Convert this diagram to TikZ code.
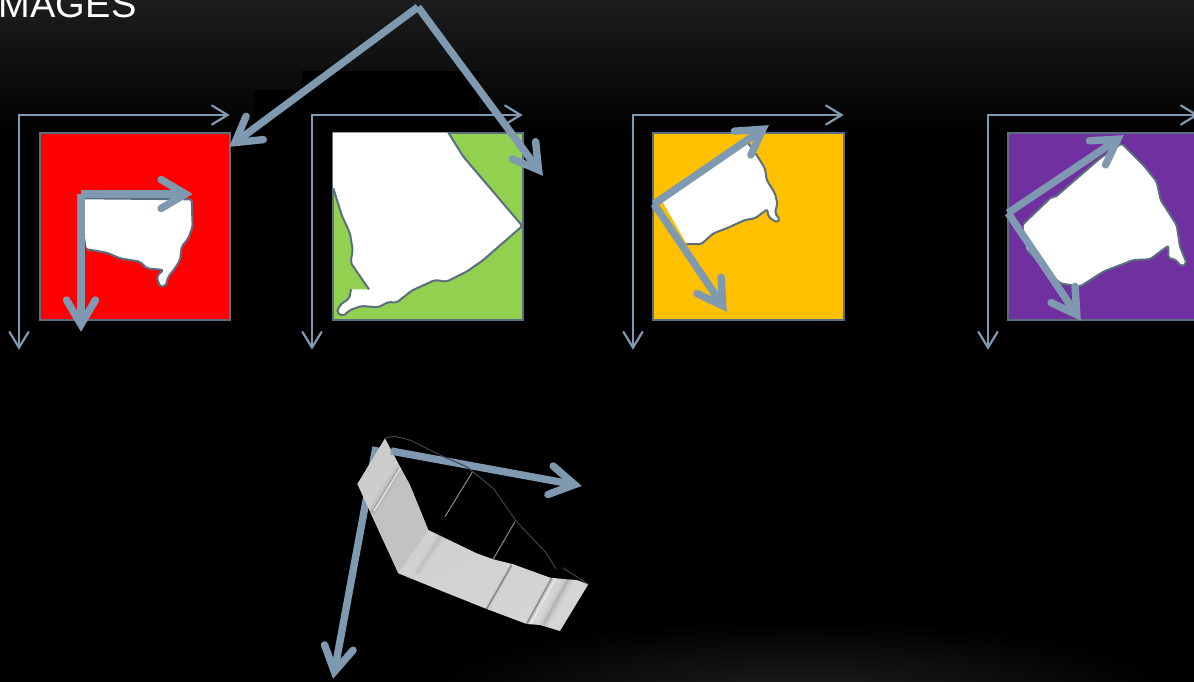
\documentclass[tikz,border=0pt]{standalone}
\usepackage{fontspec}
\setmainfont{Liberation Sans}
\usetikzlibrary{arrows.meta,shadings}
\definecolor{steel}{HTML}{7F99B1}
\definecolor{edgeblue}{HTML}{5A6E80}
\definecolor{topgrey}{HTML}{1D1D1D}
\definecolor{glow}{HTML}{202020}
\definecolor{leaf}{HTML}{92D050}
\definecolor{amber}{HTML}{FFC000}
\definecolor{violet2}{HTML}{7030A0}
\pgfdeclarearrow{
  name=FatChevron,
  setup code={\pgfarrowssettipend{0pt}\pgfarrowssetlineend{-9pt}\pgfarrowssetbackend{-34pt}},
  drawing code={
    \pgfsetlinewidth{7.4pt}\pgfsetroundcap\pgfsetmiterjoin\pgfsetmiterlimit{10}\pgfsetdash{}{0pt}
    \pgfpathmoveto{\pgfqpoint{-32pt}{14.5pt}}
    \pgfpathlineto{\pgfqpoint{-7.5pt}{0pt}}
    \pgfpathlineto{\pgfqpoint{-32pt}{-14.5pt}}
    \pgfusepathqstroke
  },
  defaults={}
}
\pgfdeclarearrow{
  name=ThinChevron,
  setup code={\pgfarrowssettipend{0pt}\pgfarrowssetlineend{-3pt}\pgfarrowssetbackend{-18pt}},
  drawing code={
    \pgfsetlinewidth{2.2pt}\pgfsetroundcap\pgfsetmiterjoin\pgfsetmiterlimit{10}\pgfsetdash{}{0pt}
    \pgfpathmoveto{\pgfqpoint{-18pt}{9.5pt}}
    \pgfpathlineto{\pgfqpoint{-2.4pt}{0pt}}
    \pgfpathlineto{\pgfqpoint{-18pt}{-9.5pt}}
    \pgfusepathqstroke
  },
  defaults={}
}
\newcommand{\softridge}[4]{%
  \draw[black,opacity=#4*.5,line width=#3*1.6pt] #1 -- #2;
  \draw[black,opacity=#4*.6,line width=#3*1.0pt] #1 -- #2;
  \draw[black,opacity=#4*.8,line width=#3*0.6pt] #1 -- #2;
  \draw[black,opacity=#4*1.2,line width=#3*0.3pt] #1 -- #2;
}
\tikzset{
  panel/.style={draw=edgeblue,line width=2.3pt,minimum width=190pt,minimum height=187pt,inner sep=0pt,outer sep=0pt},
  thinaxis/.style={draw=steel,line width=2.2pt,line cap=rect,-ThinChevron},
  fataxis/.style={draw=steel,line width=7.4pt,-FatChevron},
  shapeedge/.style={draw=edgeblue,line width=2pt,line join=round,rounded corners=2pt},
  whitefill/.style={fill=white,rounded corners=2pt},
  zoomA/.style={shift={(#1)},x=0.3333pt,y=-0.3333pt},
}
\begin{document}
\begin{tikzpicture}[x=1pt,y=-1pt]
\useasboundingbox (0,0) rectangle (1194,682);
\begin{scope}
\clip (0,0) rectangle (1194,682);
\fill[black] (0,0) rectangle (1194,682);
\shade[top color=topgrey,bottom color=black] (0,0) rectangle (1194,135);
\shade[inner color=glow,outer color=black,shift={(800,700)},xscale=380,yscale=80] (0,0) circle (1);
\fill[black] (254,90) rectangle (479,135);
\fill[black] (302,71) rectangle (479,90);
\node[anchor=base west,inner sep=0pt,text=white,font=\fontsize{38}{40}\selectfont\addfontfeature{LetterSpace=1}] (title) at (-2,18) {MAGES};

% RED
\node[panel,fill=red] (redsq) at (135,226.5) {};
\begin{scope}[zoomA={0,90}]
\path[whitefill] (255,325)--(575,328)--(578,410)--(565,445)--(545,470)--(540,510)--(525,535)--(505,560)--(497,588)--(480,590)--(470,560)--(490,540)--(440,535)--(420,515)--(360,505)--(320,488)--(260,478)--(255,440)--cycle;
\draw[shapeedge] (255,325)--(575,328)--(578,410)--(565,445)--(545,470)--(540,510)--(525,535)--(505,560)--(497,588)--(480,590)--(470,560)--(490,540)--(440,535)--(420,515)--(360,505)--(320,488)--(260,478);
\end{scope}
\coordinate (r0) at (19,115); \coordinate (rx) at (230,115); \coordinate (ry) at (19,350);
\draw[thinaxis] (r0) -- (rx);
\draw[thinaxis] (r0) -- (ry);
\coordinate (ra) at (81,194); \coordinate (rb) at (193,194); \coordinate (rc) at (81,332);
\draw[fataxis] (ra) -- (rb);
\draw[fataxis] (ra) -- (rc);

% GREEN
\node[panel,fill=leaf] (greensq) at (428,226.5) {};
\begin{scope}[zoomA={290,90}]
\path[fill=white] (130,128)--(475,128)--(520,200)--(697,408)--(580,510)--(530,545)--(470,575)--(435,570)--(365,602)--(320,638)--(295,636)--(265,652)--(215,648)--(180,660)--(160,678)--(140,668)--(150,645)--(178,625)--(183,598)--(237,598)--(182,518)--(188,480)--(180,430)--(155,375)--(130,295)--cycle;
\path[fill=white] (128,128) rectangle (135,300);
\draw[shapeedge] (475,128)--(520,200)--(697,408)--(580,510)--(530,545)--(470,575)--(435,570)--(365,602)--(320,638)--(295,636)--(265,652)--(215,648)--(180,660)--(160,678)--(140,668)--(150,645)--(178,625)--(183,598);
\draw[shapeedge] (237,598)--(182,518)--(188,480)--(180,430)--(155,375)--(130,295);
\end{scope}
\coordinate (g0) at (312,115); \coordinate (gx) at (523,115); \coordinate (gy) at (312,350);
\draw[thinaxis] (g0) -- (gx);
\draw[thinaxis] (g0) -- (gy);

% YELLOW
\node[panel,fill=amber,minimum width=191pt] (yellowsq) at (748.5,226.5) {};
\begin{scope}[zoomA={620,100}]
\path[whitefill] (125,300)--(375,125)--(385,130)--(410,165)--(435,205)--(440,240)--(465,280)--(472,310)--(465,340)--(480,358)--(470,368)--(445,350)--(442,328)--(405,355)--(375,360)--(320,385)--(280,400)--(243,433)--(200,432)--cycle;
\draw[shapeedge] (385,130)--(410,165)--(435,205)--(440,240)--(465,280)--(472,310)--(465,340)--(480,358)--(470,368)--(445,350)--(442,328)--(405,355)--(375,360)--(320,385)--(280,400)--(243,433)--(200,432);
\end{scope}
\coordinate (y0) at (633,115); \coordinate (yx) at (844,115); \coordinate (yy) at (633,350);
\draw[thinaxis] (y0) -- (yx);
\draw[thinaxis] (y0) -- (yy);
\coordinate (ya) at (654,204); \coordinate (yb) at (769,125); \coordinate (yc) at (727,312);
\draw[fataxis] (ya) -- (yb);
\draw[fataxis] (ya) -- (yc);

% PURPLE
\node[panel,fill=violet2,minimum width=192pt] (purplesq) at (1104,226.5) {};
\begin{scope}[zoomA={970,100}]
\path[whitefill] (160,372)--(245,290)--(255,292)--(390,175)--(455,130)--(520,195)--(560,245)--(572,300)--(620,375)--(630,440)--(650,490)--(635,500)--(615,478)--(595,475)--(595,437)--(540,478)--(490,480)--(400,515)--(330,560)--(270,550)--(170,450)--cycle;
\draw[shapeedge] (160,372)--(245,290)--(255,292)--(390,175)--(455,130)--(520,195)--(560,245)--(572,300)--(620,375)--(630,440)--(650,490)--(635,500)--(615,478)--(595,475)--(595,437)--(540,478)--(490,480)--(400,515)--(330,560)--(270,550)--(170,450);
\end{scope}
\coordinate (p0) at (988,115); \coordinate (px) at (1199,115); \coordinate (py) at (988,350);
\draw[thinaxis] (p0) -- (px);
\draw[thinaxis] (p0) -- (py);
\coordinate (pa) at (1008,213); \coordinate (pb) at (1124,135); \coordinate (pc) at (1081,321);
\draw[fataxis] (pa) -- (pb);
\draw[fataxis] (pa) -- (pc);

% top pair
\coordinate (ta) at (418,7); \coordinate (tb) at (229,147); \coordinate (tc) at (543,176);
\draw[fataxis] (ta) -- (tb);
\draw[fataxis] (ta) -- (tc);

% lower arrow, behind the strip
\coordinate (ba) at (376,447); \coordinate (bb) at (333,679); \coordinate (bc) at (582,486); \coordinate (bd) at (391,451);
\draw[fataxis] (ba) -- (bb);

% 3D strip
\begin{scope}[zoomA={310,425}]
\begin{scope}
\clip (142,177)--(225,40)--(270,125)--(300,180)--(355,315)--(500,385)--(550,403)--(610,418)--(720,458)--(770,463)--(800,465)--(835,478)--(750,618)--(690,600)--(650,597)--(530,552)--(400,500)--(265,445)--(180,260)--cycle;
\shade[left color=black!20,right color=black!16,shading angle=30] (100,0) rectangle (900,700);
\fill[black!27,opacity=.6] (185,262)--(268,128)--(300,180)--(355,315)--(265,445)--cycle;
\softridge{(320,445)}{(395,330)}{6}{.025}
\softridge{(185,262)}{(268,128)}{6}{.05}
\draw[white,opacity=.7,line width=1.2pt] (192,258)--(272,128);
\softridge{(530,552)}{(605,420)}{3}{.05}
\draw[black!55,opacity=.7,line width=1.4pt] (530,552)--(605,420);
\softridge{(650,597)}{(725,460)}{3}{.05}
\draw[black!55,opacity=.7,line width=1.2pt] (650,597)--(725,460);
\draw[white,opacity=.6,line width=1.2pt] (662,597)--(737,460);
\softridge{(700,600)}{(775,463)}{7}{.05}
\end{scope}
\draw[black!45,line width=1pt] (488,140)--(405,275);
\draw[black!45,line width=1pt] (615,290)--(550,402);
\end{scope}
\draw[fataxis] (bd) -- (bc);
\begin{scope}[zoomA={310,425}]
\draw[draw=black!55!steel,line width=1pt,rounded corners=2pt] (225,40)--(250,33)--(300,45)--(400,95)--(470,125)--(550,190)--(620,290)--(710,385)--(738,432);
\draw[draw=black!55!steel,line width=1pt] (758,428)--(800,455)--(835,478);
\end{scope}
\end{scope}
\end{tikzpicture}
\end{document}
